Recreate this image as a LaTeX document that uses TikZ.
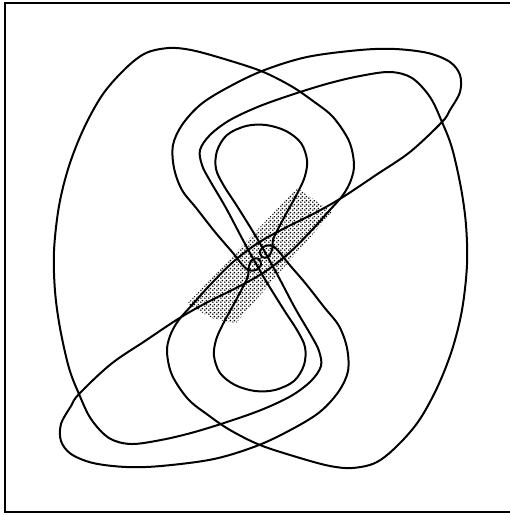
\documentclass[tikz,border=0pt]{standalone}
\usetikzlibrary{patterns}
\pgfdeclarepatternformonly{halftone}{\pgfpointorigin}{\pgfpoint{4pt}{4pt}}{\pgfpoint{4pt}{4pt}}%
{\pgfpathcircle{\pgfpoint{1pt}{1pt}}{1.05pt}\pgfpathcircle{\pgfpoint{3pt}{3pt}}{1.05pt}\pgfusepath{fill}}
\begin{document}
\begin{tikzpicture}[x=1pt,y=-1pt,
  curve/.style={line width=2pt, line join=round, line cap=round},
  frame/.style={line width=1.5pt}]
\useasboundingbox (0,0) rectangle (510,515);
% shaded band
\fill[pattern=halftone, pattern color=black] (187,304) -- (297,188) -- (332,212) -- (236,323) -- (214,319) -- cycle;
% frame
\draw[frame] (511,3) -- (5,3) -- (5,512) -- (511,512);
\newcommand\halfcurve{%
\draw[curve] plot[smooth cycle, tension=0.55] coordinates {
 (240,262) (233,253) (215,232) (197,209) (182,190) (174,168) (173,145) (182,125)
 (200,105) (225,89) (262,71) (307,57) (360,50) (395,49) (428,53) (450,62) (460,75)
 (460,92) (450,110) (442,122) (410,152) (376,175) (343,197)
 (315,213) (285,228) (258,243) (233,262) (210,285) (192,305) (178,321)
 (170,336) (167,352) (172,375) (188,399) (208,415) (230,430) (260,445) (300,458)
 (330,466) (352,468) (375,463) (395,448) (418,422) (437,388) (452,350) (462,310)
 (467,265) (466,225) (461,188) (452,148) (442,122) (430,97) (412,78) (390,72)
 (360,76) (330,83) (297,93) (260,106) (230,120) (210,135) (200,150) (202,165) (209,179)
 (226,208) (244,242) (263,276) (284,310) (297,330)
 (305,347) (304,365) (294,381) (275,390) (255,391) (235,385) (220,373) (214,356) (216,340) (223,324)
 (235,302) (244,285) (248,276)
 (249,266) (253,259) (259,259) (261,265) (256,270) (248,270)
};}
\halfcurve
\begin{scope}[rotate around={180:(260.5,258)}]
\halfcurve
\end{scope}
\end{tikzpicture}
\end{document}
